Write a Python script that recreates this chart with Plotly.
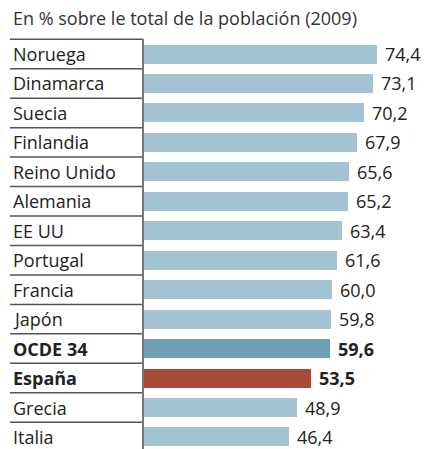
import plotly.graph_objects as go

countries = ["Noruega", "Dinamarca", "Suecia", "Finlandia", "Reino Unido", "Alemania",
             "EE UU", "Portugal", "Francia", "Japón", "OCDE 34", "España", "Grecia", "Italia"]
values = [74.4, 73.1, 70.2, 67.9, 65.6, 65.2, 63.4, 61.6, 60.0, 59.8, 59.6, 53.5, 48.9, 46.4]
value_labels = ["74,4", "73,1", "70,2", "67,9", "65,6", "65,2", "63,4", "61,6", "60,0",
                "59,8", "59,6", "53,5", "48,9", "46,4"]
title_text = "En % sobre le total de la población (2009)"

W, H = 424, 449
L = 143
plot_w = W - L
FONT = "Open Sans"
TXT = "#222222"

colors = []
for c in countries:
    if c == "OCDE 34":
        colors.append("#6f9fb5")
    elif c == "España":
        colors.append("#a94a36")
    else:
        colors.append("#a3c3d3")

bold = {"OCDE 34", "España"}
ypos = list(range(len(countries)))

fig = go.Figure()
fig.add_trace(go.Bar(
    x=values, y=ypos, orientation="h",
    marker=dict(color=colors, line=dict(width=0)),
    width=0.645, hoverinfo="skip",
))

annotations = []
shapes = []
for i, (c, v, lab) in enumerate(zip(countries, values, value_labels)):
    b = c in bold
    annotations.append(dict(
        x=(11 - L) / plot_w, xref="paper", y=i, yref="y",
        text=f"<b>{c}</b>" if b else c, showarrow=False,
        xanchor="left", yanchor="middle",
        font=dict(family=FONT, size=18, color=TXT),
    ))
    annotations.append(dict(
        x=v, xref="x", y=i, yref="y",
        text=f"<b>{lab}</b>" if b else lab, showarrow=False,
        xanchor="left", yanchor="middle", xshift=6,
        font=dict(family=FONT, size=18, color=TXT),
    ))
    shapes.append(dict(
        type="line", xref="paper", yref="y",
        x0=(10 - L) / plot_w, x1=0, y0=i - 0.5, y1=i - 0.5,
        line=dict(color="#555555", width=1.5),
    ))

shapes.append(dict(
    type="line", xref="paper", yref="paper",
    x0=0, x1=0, y0=0, y1=(H - 39) / (H - 30),
    line=dict(color="#777777", width=2),
))

plot_h = H - 30
annotations.append(dict(
    x=(11 - L) / plot_w, xref="paper", y=1 + (30 - 18) / plot_h, yref="paper",
    text=title_text, showarrow=False, xanchor="left", yanchor="middle",
    font=dict(family=FONT, size=18, color="#333333"),
))

px_per_unit = (377 - 143) / 74.4
fig.update_layout(
    width=W, height=H,
    margin=dict(l=L, r=0, t=30, b=0),
    paper_bgcolor="white", plot_bgcolor="white",
    showlegend=False,
    xaxis=dict(range=[0, plot_w / px_per_unit], visible=False, fixedrange=True),
    yaxis=dict(range=[(449 - 54) / 29.46, (30 - 54) / 29.46], visible=False, fixedrange=True),
    annotations=annotations, shapes=shapes,
    bargap=0,
)

fig.write_html("out.html", config={"displayModeBar": False})
